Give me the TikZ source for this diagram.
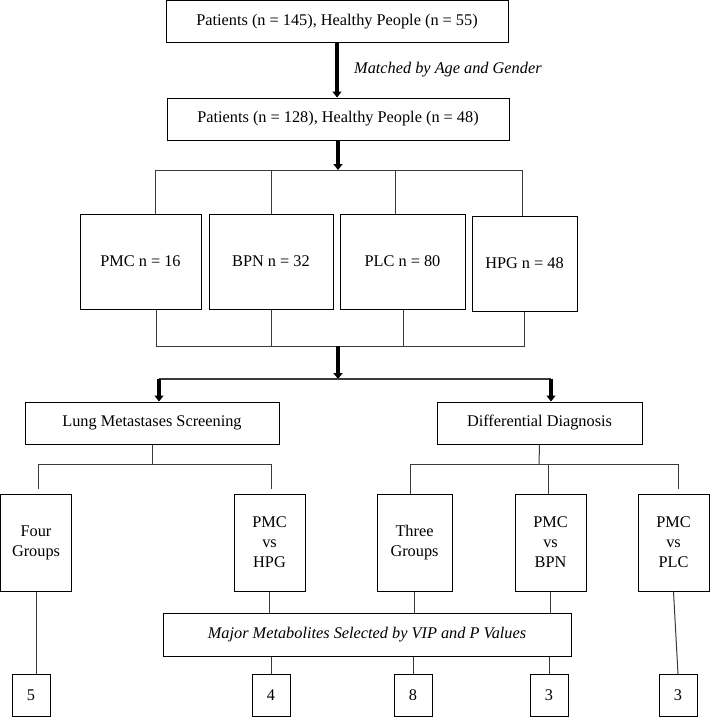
\documentclass[tikz,border=0pt]{standalone}
\usepackage{fontspec}
\setmainfont{Liberation Serif}
\usepackage{tikz}
\usetikzlibrary{arrows.meta}
\definecolor{ink}{HTML}{000000}
\definecolor{wire}{HTML}{3A3A3A}
\newcommand{\boxfont}{\fontsize{16.3}{20}\selectfont}
\tikzset{
  box/.style={draw=ink, line width=1pt, inner sep=0pt, align=center, font=\boxfont},
  wide/.style={box, minimum width=342pt, minimum height=42pt},
  grp/.style={box, minimum height=95pt},
  tall/.style={box, minimum width=71pt, minimum height=97pt},
  num/.style={box, minimum width=38pt, minimum height=42pt},
  link/.style={draw=wire, line width=1pt},
  flow/.style={draw=ink, line width=4pt, -{Triangle[width=9pt,length=6pt]}},
  note/.style={font=\boxfont\itshape, inner sep=0pt},
}

\begin{document}
\begin{tikzpicture}[x=1pt, y=-1pt]
  \useasboundingbox (0,0) rectangle (710,717);

  % cohort
  \node[wide] (all) at (337,21.5) {Patients (n = 145), Healthy People (n = 55)};
  \node[wide] (matched) at (338,119) {Patients (n = 128), Healthy People (n = 48)};
  \node[note, anchor=west] (agegender) at (354,70) {Matched by Age and Gender};
  \draw[flow] (all.south) -- (all.south |- matched.north);

  % four groups
  \node[grp, minimum width=121pt] (pmc) at (140.5,261.5) {PMC n = 16};
  \node[grp, minimum width=124pt] (bpn) at (271,261.5) {BPN n = 32};
  \node[grp, minimum width=125pt] (plc) at (402.5,261.5) {PLC n = 80};
  \node[grp, minimum width=105pt] (hpg) at (524.5,263.5) {HPG n = 48};

  \coordinate (t1) at (155,170);
  \coordinate (t2) at (271,170);
  \coordinate (t3) at (395,170);
  \coordinate (t4) at (522,170);
  \draw[flow] (matched.south) -- (matched.south |- t1);
  \draw[link] (t1 |- pmc.north) -- (t1) -- (t4) -- (t4 |- hpg.north);
  \draw[link] (t2) -- (t2 |- bpn.north);
  \draw[link] (t3) -- (t3 |- plc.north);

  \coordinate (b1) at (156,346);
  \coordinate (b2) at (271,346);
  \coordinate (b3) at (403,346);
  \coordinate (b4) at (524,346);
  \draw[link] (b1 |- pmc.south) -- (b1) -- (b4) -- (b4 |- hpg.south);
  \draw[link] (b2) -- (b2 |- bpn.south);
  \draw[link] (b3) -- (b3 |- plc.south);

  % two aims
  \node[box, minimum width=254pt, minimum height=42pt] (lms) at (152,423) {Lung Metastases Screening};
  \node[box, minimum width=205pt, minimum height=42pt] (dd) at (539.5,423) {Differential Diagnosis};

  \coordinate (mid) at (338,346);
  \coordinate (split) at (338,379);
  \coordinate (sl) at (159,379);
  \coordinate (sr) at (551,379);
  \draw[flow] (mid) -- (split);
  \draw[link, line width=1.3pt] (sl) -- (sr);
  \draw[flow] (sl) -- (sl |- lms.north);
  \draw[flow] (sr) -- (sr |- dd.north);

  % comparisons
  \node[tall] (four) at (36,542.5) {Four\\Groups};
  \node[tall] (pvh) at (269.5,542.5) {PMC\\vs\\HPG};
  \node[tall, minimum width=75pt] (three) at (414.5,542.5) {Three\\Groups};
  \node[tall] (pvb) at (550.5,542.5) {PMC\\vs\\BPN};
  \node[tall] (pvp) at (673.5,542.5) {PMC\\vs\\PLC};

  \coordinate (lj) at (152,464);
  \coordinate (l1) at (38,464);
  \coordinate (l2) at (271,464);
  \draw[link] (lms.south) -- (lj);
  \draw[link] (l1) -- (l2);
  \draw[link] (l1) -- ([yshift=5pt]l1 |- four.north);
  \draw[link] (l2) -- ([yshift=5pt]l2 |- pvh.north);

  \coordinate (rj) at (539,464);
  \coordinate (r1) at (410,464);
  \coordinate (r2) at (548,464);
  \coordinate (r3) at (678,464);
  \draw[link] (dd.south) -- (rj);
  \draw[link] (r1) -- (r3);
  \draw[link] (r1) -- (r1 |- three.north);
  \draw[link] (r2) -- (r2 |- pvb.north);
  \draw[link] (r3) -- ([yshift=5pt]r3 |- pvp.north);

  % selection
  \node[box, minimum width=408pt, minimum height=43pt, font=\boxfont\itshape] (major) at (367,634.5)
    {Major Metabolites Selected by VIP and P Values};
  \foreach \g in {pvh,three,pvb}{
    \draw[link] (\g.south) -- (\g.south |- major.north);
  }

  \foreach \nm/\x/\t in {n5/31/5, n4/271/4, n8/413/8, n3a/549/3, n3b/678/3}{
    \node[num] (\nm) at (\x,695.5) {\t};
  }
  \draw[link] (four.south) -- (four.south |- n5.north);
  \foreach \nm in {n4,n8,n3a}{
    \draw[link] (\nm.north |- major.south) -- (\nm.north);
  }
  \draw[link] (pvp.south) -- (n3b.north);
\end{tikzpicture}
\end{document}
